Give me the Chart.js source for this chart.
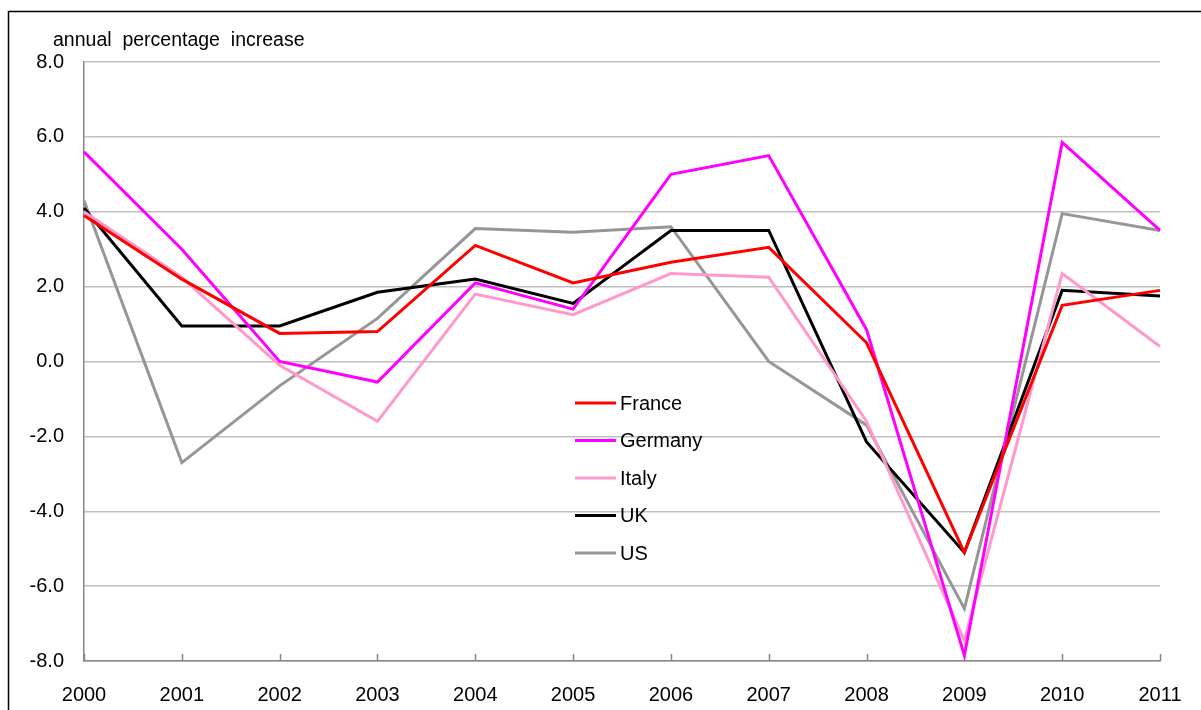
<!DOCTYPE html>
<html>
<head>
<meta charset="utf-8">
<title>annual percentage increase</title>
<script src="https://cdn.jsdelivr.net/npm/chart.js@4.4.0/dist/chart.umd.min.js"></script>
<style>
  html, body { margin: 0; padding: 0; background: #fff; }
  #wrap { position: relative; width: 1201px; height: 710px; overflow: hidden; }
</style>
</head>
<body>
<div id="wrap"><canvas id="lineChart" width="1201" height="710"></canvas></div>
<script>
const years = ['2000','2001','2002','2003','2004','2005','2006','2007','2008','2009','2010','2011'];

const france  = [3.9, 2.2, 0.75, 0.8, 3.1, 2.1, 2.65, 3.05, 0.5, -5.1, 1.5, 1.9];
const germany = [5.6, 3.0, 0.0, -0.55, 2.1, 1.4, 5.0, 5.5, 0.85, -7.85, 5.85, 3.5];
const italy   = [4.0, 2.25, -0.1, -1.6, 1.8, 1.25, 2.35, 2.25, -1.6, -7.45, 2.35, 0.4];
const uk      = [4.1, 0.95, 0.95, 1.85, 2.2, 1.55, 3.5, 3.5, -2.15, -5.1, 1.9, 1.75];
const us      = [4.3, -2.7, -0.65, 1.15, 3.55, 3.45, 3.6, 0.0, -1.7, -6.6, 3.95, 3.5];

const seriesNames = ['France', 'Germany', 'Italy', 'UK', 'US'];
const seriesColors = ['#ff0000', '#ff00ff', '#ff99cc', '#000000', '#969696'];
const seriesValues = [france, germany, italy, uk, us];

const FONT = '"Liberation Sans", Arial, sans-serif';

// frame, title, inside ticks and legend
const decorations = {
  id: 'decorations',
  beforeDraw(chart) {
    const ctx = chart.ctx;
    ctx.save();
    ctx.fillStyle = '#fff';
    ctx.fillRect(0, 0, chart.width, chart.height);
    ctx.strokeStyle = '#000';
    ctx.lineWidth = 1.5;
    ctx.strokeRect(8.5, 11.5, 1400, 900);
    ctx.fillStyle = '#000';
    ctx.font = '19.5px ' + FONT;
    ctx.textBaseline = 'alphabetic';
    ctx.textAlign = 'left';
    ctx.fillText('annual  percentage  increase', 53, 46);
    ctx.restore();
  },
  beforeDatasetsDraw(chart) {
    const ctx = chart.ctx;
    const x = chart.scales.x;
    const bottom = chart.chartArea.bottom;
    ctx.save();
    ctx.strokeStyle = '#868686';
    ctx.lineWidth = 1.5;
    ctx.beginPath();
    for (let i = 0; i < years.length; i++) {
      const px = Math.round(x.getPixelForValue(i)) + 0.5;
      ctx.moveTo(px, bottom);
      ctx.lineTo(px, bottom - 7);
    }
    ctx.stroke();
    ctx.restore();
  },
  afterDatasetsDraw(chart) {
    const ctx = chart.ctx;
    ctx.save();
    ctx.font = '20px ' + FONT;
    ctx.textBaseline = 'middle';
    ctx.textAlign = 'left';
    chart.data.datasets.forEach((ds, i) => {
      const y = 403 + i * 37.5;
      ctx.strokeStyle = ds.borderColor;
      ctx.lineWidth = 3;
      ctx.beginPath();
      ctx.moveTo(575, y);
      ctx.lineTo(616, y);
      ctx.stroke();
      ctx.fillStyle = '#000';
      ctx.fillText(ds.label, 620, y + 1);
    });
    ctx.restore();
  }
};

const ctx = document.getElementById('lineChart').getContext('2d');
new Chart(ctx, {
  type: 'line',
  data: {
    labels: years,
    datasets: seriesNames.map((name, i) => ({
      label: name,
      data: seriesValues[i],
      borderColor: seriesColors[i],
      backgroundColor: seriesColors[i],
      borderWidth: 3,
      pointRadius: 0,
      tension: 0,
      fill: false
    }))
  },
  options: {
    responsive: false,
    animation: false,
    layout: { padding: { left: 0, top: 62, right: 41, bottom: 0 } },
    plugins: {
      legend: { display: false },
      tooltip: { enabled: false }
    },
    scales: {
      x: {
        offset: false,
        grid: { display: false, drawTicks: false },
        border: { display: true, color: '#868686', width: 1.5 },
        ticks: {
          color: '#000',
          font: { family: FONT, size: 20 },
          padding: 22,
          maxRotation: 0,
          autoSkip: false
        },
        afterFit(scale) {
          scale.height = 49;
          scale.paddingLeft = 0;
          scale.paddingRight = 0;
        }
      },
      y: {
        min: -8,
        max: 8,
        grid: { color: '#c0c0c0', lineWidth: 1.5, drawTicks: false },
        border: { display: true, color: '#868686', width: 1.5 },
        ticks: {
          stepSize: 2,
          color: '#000',
          font: { family: FONT, size: 20 },
          padding: 20,
          callback: (v) => Number(v).toFixed(1)
        },
        afterFit(scale) { scale.width = 84; }
      }
    }
  },
  plugins: [decorations]
});
</script>
</body>
</html>
